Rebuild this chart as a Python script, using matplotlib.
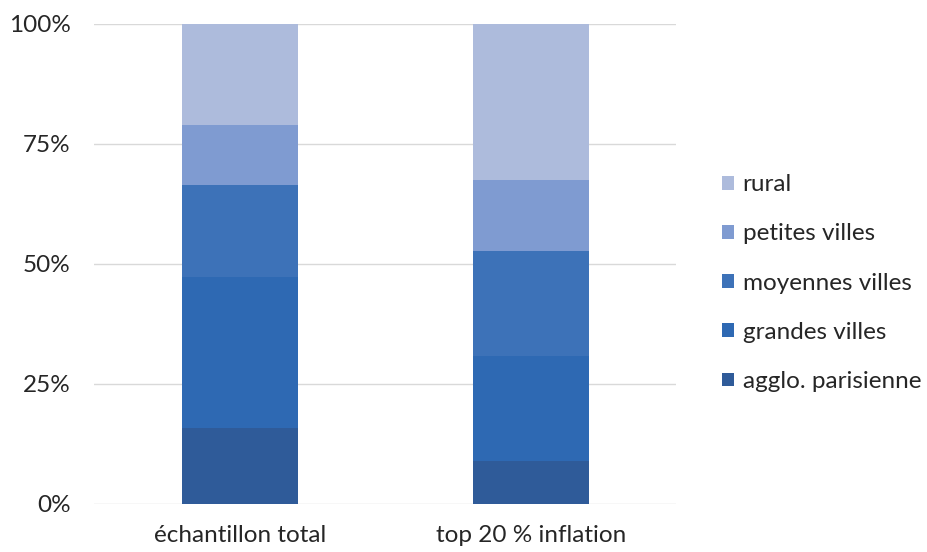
import matplotlib
matplotlib.use("Agg")
import matplotlib.pyplot as plt
from matplotlib.patches import Patch
import numpy as np

categories = ["échantillon total", "top 20 % inflation"]
series = ["agglo. parisienne", "grandes villes", "moyennes villes", "petites villes", "rural"]
agglo = [15.8, 9.0]
grandes = [31.4, 21.8]
moyennes = [19.3, 22.0]
petites = [12.5, 14.7]
rural = [21.0, 32.5]
yticks = [0, 25, 50, 75, 100]
ytick_labels = ["0%", "25%", "50%", "75%", "100%"]

colors = ["#2F5B99", "#2E69B3", "#3D72B8", "#7F9BD1", "#ADBBDC"]

plt.rcParams["font.family"] = ["Lato", "DejaVu Sans"]
FS = 17.5

fig = plt.figure(figsize=(9.28, 5.52), dpi=100)
ax = fig.add_axes([0.1018, 0.087, 0.627, 0.8696])

x = np.arange(len(categories))
bottom = np.zeros(len(categories))
for name, vals, c in zip(series, [agglo, grandes, moyennes, petites, rural], colors):
    ax.bar(x, vals, 0.4, bottom=bottom, color=c, label=name, zorder=2)
    bottom += np.array(vals)

ax.set_xlim(-0.5, 1.5)
ax.set_ylim(0, 100)
ax.set_yticks(yticks)
ax.set_yticklabels(ytick_labels)
ax.set_xticks(x)
ax.set_xticklabels(categories)
ax.yaxis.grid(True, color="#D9D9D9", linewidth=1.0, zorder=0)
ax.set_axisbelow(True)
for s in ax.spines.values():
    s.set_visible(False)
ax.tick_params(axis="both", length=0, labelsize=FS, labelcolor="#262626")
ax.tick_params(axis="y", pad=17)
ax.tick_params(axis="x", pad=15)

handles = [Patch(facecolor=c, label=n) for n, c in zip(series, colors)][::-1]
fig.legend(handles=handles, loc="center left", bbox_to_anchor=(0.778, 0.487),
           frameon=False, fontsize=FS, labelspacing=1.16, borderaxespad=0,
           borderpad=0, handlelength=0.5, handleheight=0.5, handletextpad=0.35,
           labelcolor="#262626")

fig.savefig("out.png", dpi=100)
